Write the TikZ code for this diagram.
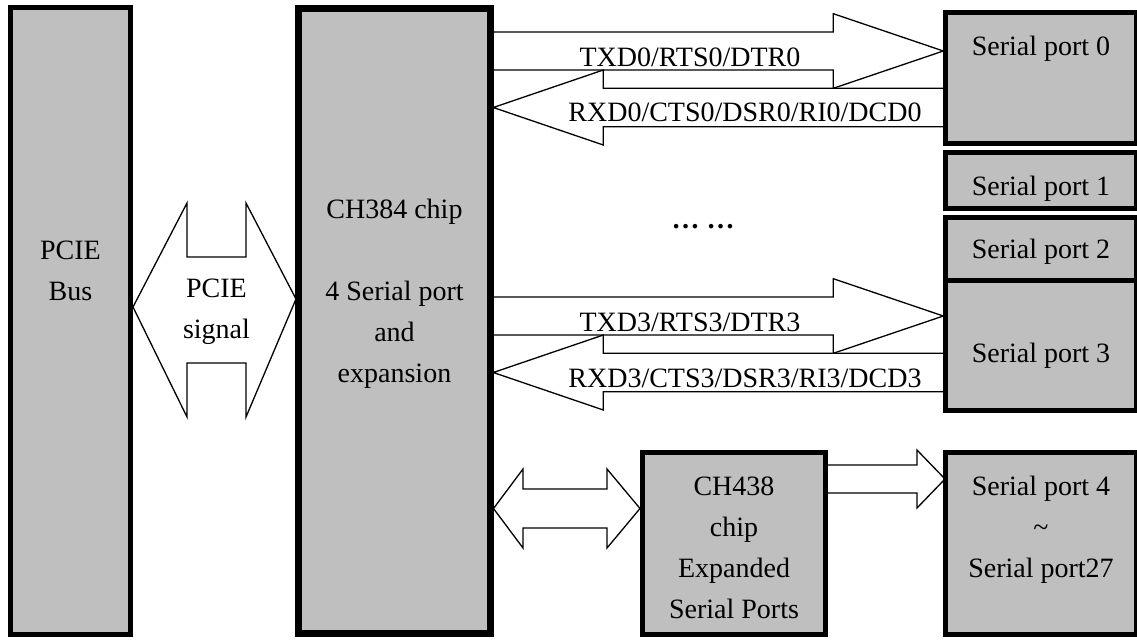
\documentclass[tikz,border=0pt]{standalone}
\usepackage{fontspec}
\setmainfont{Liberation Serif}
\definecolor{boxgray}{RGB}{191,191,191}
\tikzset{
  blk/.style={draw=black, fill=boxgray, line width=5pt, inner sep=0pt, outer sep=0pt},
  blkthick/.style={blk, line width=7pt},
  barrow/.style={draw=black, fill=white, line width=1.3pt, line join=miter},
  txt/.style={inner sep=0pt, font=\fontsize{28}{41}\selectfont, align=center},
}
\begin{document}
\begin{tikzpicture}[x=1pt,y=-1pt]
\useasboundingbox (0,0) rectangle (1137,643);
\fill[white] (0,0) rectangle (1137,643);
% ---- block arrows (drawn first, boxes cover their ends)
% PCIE signal double arrow
\draw[barrow] (133,307) -- (187,203) -- (187,257) -- (246,257) -- (246,203) -- (296,299)
  -- (246,417) -- (246,363) -- (187,363) -- (187,417) -- cycle;
% port 0 : TX (right) and RX (left)
\draw[barrow] (492,32) -- (833.3,32) -- (833.3,13.7) -- (943.3,51) -- (833.3,88.3) -- (833.3,70) -- (492,70);
\draw[barrow] (946,88.3) -- (603.3,88.3) -- (603.3,70) -- (493.3,107.5) -- (603.3,145) -- (603.3,126.7) -- (946,126.7);
% port 3 : TX and RX
\draw[barrow] (492,297) -- (833.3,297) -- (833.3,278.7) -- (943.3,316) -- (833.3,353.3) -- (833.3,335) -- (492,335);
\draw[barrow] (946,353.3) -- (603.3,353.3) -- (603.3,335) -- (493.3,372.5) -- (603.3,410) -- (603.3,391.7) -- (946,391.7);
% CH384 <-> CH438 double arrow
\draw[barrow] (493.5,508.5) -- (523,469) -- (523,489) -- (607,489) -- (607,469) -- (640,508.5)
  -- (607,548) -- (607,528) -- (523,528) -- (523,548) -- cycle;
% CH438 -> serial port 4..27
\draw[barrow] (826,465) -- (917,465) -- (917,450) -- (945,479) -- (917,508) -- (917,493) -- (826,493);
% ---- boxes
\node[blk, minimum width=119.4pt, minimum height=627pt] (bus) at (70.5,321) {};
\node[blkthick, minimum width=191.5pt, minimum height=625pt] (ch384) at (394.5,321) {};
\node[blk, minimum width=191pt, minimum height=130.5pt] (sp0) at (1041,77.75) {};
\node[blk, minimum width=191pt, minimum height=56pt] (sp1) at (1041,180.5) {};
\node[blk, minimum width=191pt, minimum height=63pt] (sp2) at (1041,249) {};
\node[blk, minimum width=191pt, minimum height=130pt] (sp3) at (1041,345.5) {};
\node[blk, minimum width=183pt, minimum height=182pt] (ch438) at (734,543.5) {};
\node[blk, minimum width=191pt, minimum height=182pt] (sp4) at (1041,543.5) {};
% ---- texts
\node[txt, anchor=north] (bustxt) at (70.5,230.3) {\strut PCIE\\Bus};
\node[txt, anchor=north] (sigtxt) at (216.5,268.3) {\strut PCIE\\signal};
\node[txt, anchor=north] (chtxt) at (394.5,189.3) {\strut CH384 chip\\\strut\\4 Serial port\\and\\expansion};
\node[txt, anchor=north] (ch438txt) at (734,466.3) {\strut CH438\\chip\\Expanded\\Serial Ports};
\node[txt, anchor=north] (sp4txt) at (1041,466.3) {\strut Serial port 4\\\textasciitilde\\Serial port27};
\node[txt, anchor=base] (sp0txt) at (1041,55) {Serial port 0};
\node[txt, anchor=base] (sp1txt) at (1041,195) {Serial port 1};
\node[txt, anchor=base] (sp2txt) at (1041,258) {Serial port 2};
\node[txt, anchor=base] (sp3txt) at (1041,362) {Serial port 3};
\node[txt, anchor=base] (tx0) at (690,66) {TXD0/RTS0/DTR0};
\node[txt, anchor=base] (rx0) at (745,121) {RXD0/CTS0/DSR0/RI0/DCD0};
\node[txt, anchor=base] (tx3) at (690,331) {TXD3/RTS3/DTR3};
\node[txt, anchor=base] (rx3) at (745,387) {RXD3/CTS3/DSR3/RI3/DCD3};
\node[txt, anchor=base] (dots) at (703,228) {\textbf{… …}};
\end{tikzpicture}
\end{document}
